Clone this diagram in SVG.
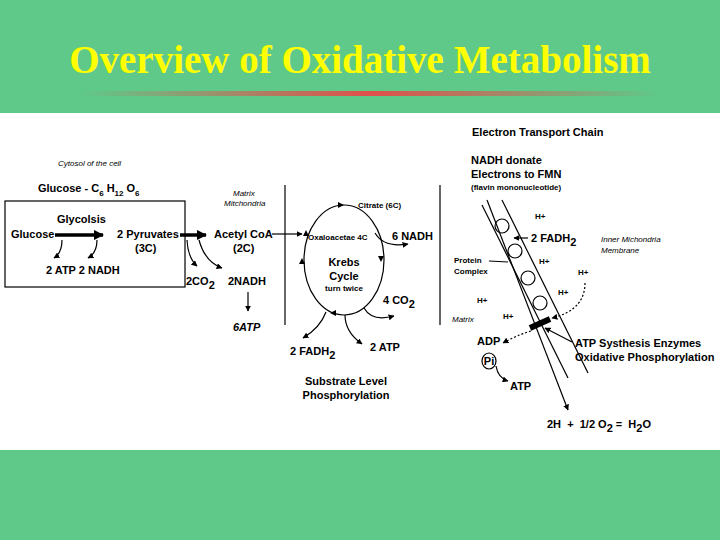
<svg xmlns="http://www.w3.org/2000/svg" width="720" height="540" viewBox="0 0 720 540">
<defs>
<linearGradient id="rl" x1="0" x2="1"><stop offset="0" stop-color="#5fc98a"/><stop offset="0.5" stop-color="#e0504a"/><stop offset="1" stop-color="#5fc98a"/></linearGradient>
<marker id="a" viewBox="0 0 10 10" refX="9" refY="5" markerWidth="5" markerHeight="5" orient="auto"><path d="M0,0L10,5L0,10z" fill="#000"/></marker>
<marker id="b" viewBox="0 0 10 10" refX="9" refY="5" markerWidth="3" markerHeight="3" orient="auto"><path d="M0,0L10,5L0,10z" fill="#000"/></marker>
<style>
text{font-family:"Liberation Sans",Arial,sans-serif;font-weight:bold;font-size:11px;fill:#000}
.s{font-size:8px}
.i{font-style:italic;font-weight:normal;font-size:8px}
.t{font-family:"Liberation Serif","Times New Roman",serif;font-size:39px;fill:#ffff00;font-weight:bold}
.l{fill:none;stroke:#000;stroke-width:1.2}
.th{fill:none;stroke:#000;stroke-width:3.5}
.d{fill:none;stroke:#000;stroke-width:1.2;stroke-dasharray:2 2}
</style>
</defs>
<rect width="720" height="540" fill="#5fc98a"/>
<text class="t" x="360" y="73" text-anchor="middle">Overview of Oxidative Metabolism</text>
<rect x="80" y="91" width="580" height="5" fill="url(#rl)"/>
<rect x="0" y="113" width="720" height="337" fill="#fff"/>

<g id="connectors">
<line class="th" x1="55" y1="235" x2="103" y2="235" marker-end="url(#b)"/>
<line class="th" x1="180" y1="235" x2="206" y2="235" marker-end="url(#b)"/>
<path class="l" d="M62,240 Q62,253 54,258" marker-end="url(#a)"/>
<path class="l" d="M97,240 Q97,253 88,258" marker-end="url(#a)"/>
<path class="l" d="M187,240 Q188,258 197,266" marker-end="url(#a)"/>
<path class="l" d="M199,240 Q205,262 222,268" marker-end="url(#a)"/>
<line class="l" x1="248" y1="292" x2="248" y2="311" marker-end="url(#a)"/>
<line class="l" stroke-width="2" x1="272" y1="234" x2="302" y2="234" marker-end="url(#a)"/>
<line class="l" x1="285" y1="185" x2="285" y2="325"/>
<line class="l" x1="440" y1="185" x2="440" y2="325"/>
<ellipse class="l" cx="344" cy="260" rx="40" ry="55"/>
<path class="l" d="M375,233 Q384,248 408,244" marker-end="url(#a)"/>
<path class="l" d="M364,308 Q372,322 394,316" marker-end="url(#a)"/>
<path class="l" d="M326,312 Q320,328 303,338" marker-end="url(#a)"/>
<path class="l" d="M345,315 Q345,332 362,344" marker-end="url(#a)"/>
<path d="M344,205l-6,-3v6z M381,262l-3,-6h6z M302,258l-3,6h6z M306,230l-3,6h6z M330,313l6,-3v6z" fill="#000"/>

<line class="l" x1="482" y1="205" x2="568" y2="378"/>
<line class="l" x1="502" y1="200" x2="588" y2="373"/>
<line class="l" x1="487" y1="200" x2="568" y2="410" marker-end="url(#a)"/>
<line x1="530" y1="328" x2="550" y2="319" stroke="#000" stroke-width="6"/>
<line class="l" x1="528" y1="238" x2="514" y2="238" marker-end="url(#a)"/>
<line class="l" x1="489" y1="261" x2="508" y2="262"/>
<path class="d" d="M585,283 Q585,310 552,318" marker-end="url(#a)"/>
<path class="d" d="M531,331 Q515,336 503,343" marker-end="url(#a)"/>
<line class="l" x1="572" y1="342" x2="545" y2="328" marker-end="url(#a)"/>
<path class="l" d="M496,366 Q498,378 508,381" marker-end="url(#a)"/>
<circle class="l" cx="502" cy="226" r="7"/>
<circle class="l" cx="515" cy="251" r="7"/>
<circle class="l" cx="528" cy="278" r="7"/>
<circle class="l" cx="540" cy="303" r="7"/>
</g>

<g id="glycolysis">
<rect class="l" x="5" y="201" width="180" height="86"/>
<text class="i" x="58" y="166">Cytosol of the cell</text>
<text x="38" y="192">Glucose - C<tspan class="s" dy="4">6</tspan><tspan dy="-4"> H</tspan><tspan class="s" dy="4">12</tspan><tspan dy="-4"> O</tspan><tspan class="s" dy="4">6</tspan></text>
<text x="57" y="223">Glycolsis</text>
<text x="11" y="238">Glucose</text>
<text x="117" y="238">2 Pyruvates</text>
<text x="135" y="252">(3C)</text>
<text x="46" y="274">2 ATP  2 NADH</text>
</g>
<g id="acetyl">
<text class="i" x="233" y="196">Matrix</text>
<text class="i" x="224" y="206">Mitchondria</text>
<text x="214" y="238">Acetyl CoA</text>
<text x="233" y="252">(2C)</text>
<text x="186" y="285">2CO<tspan dy="4">2</tspan></text>
<text x="228" y="285">2NADH</text>
<text x="233" y="331" font-style="italic">6ATP</text>
</g>
<g id="krebs">
<text class="s" x="358" y="208">Citrate (6C)</text>
<text class="s" x="308" y="240">Oxaloacetae 4C</text>
<text x="392" y="240">6 NADH</text>
<text x="344" y="266" text-anchor="middle">Krebs</text>
<text x="344" y="280" text-anchor="middle">Cycle</text>
<text class="s" x="344" y="291" text-anchor="middle" font-weight="normal">turn twice</text>
<text x="383" y="304">4 CO<tspan dy="4">2</tspan></text>
<text x="290" y="355">2 FADH<tspan dy="4">2</tspan></text>
<text x="370" y="351">2 ATP</text>
<text x="346" y="385" text-anchor="middle">Substrate Level</text>
<text x="346" y="399" text-anchor="middle">Phosphorylation</text>
</g>
<g id="etc">
<text x="472" y="136">Electron Transport Chain</text>
<text x="471" y="164">NADH donate</text>
<text x="471" y="178">Electrons to FMN</text>
<text class="s" x="471" y="190">(flavin mononucleotide)</text>
<text class="s" x="535" y="219">H+</text>
<text x="531" y="242">2 FADH<tspan dy="4">2</tspan></text>
<text class="i" x="601" y="242">Inner Michondria</text>
<text class="i" x="601" y="253">Membrane</text>
<text class="s" x="454" y="263">Protein</text>
<text class="s" x="454" y="274">Complex</text>
<text class="s" x="539" y="264">H+</text>
<text class="s" x="578" y="275">H+</text>
<text class="s" x="558" y="295">H+</text>
<text class="s" x="477" y="303">H+</text>
<text class="i" x="452" y="322">Matrix</text>
<text class="s" x="503" y="319">H+</text>
<text x="477" y="345">ADP</text>
<ellipse class="l" cx="489" cy="361" rx="7" ry="8"/>
<text x="489" y="365" text-anchor="middle">Pi</text>
<text x="510" y="390">ATP</text>
<text x="575" y="347">ATP Systhesis Enzymes</text>
<text x="575" y="361">Oxidative Phosphorylation</text>
<text x="547" y="428" xml:space="preserve">2H  +  1/2 O<tspan dy="4">2</tspan><tspan dy="-4"> =  H</tspan><tspan dy="4">2</tspan><tspan dy="-4">O</tspan></text>
</g>
</svg>
